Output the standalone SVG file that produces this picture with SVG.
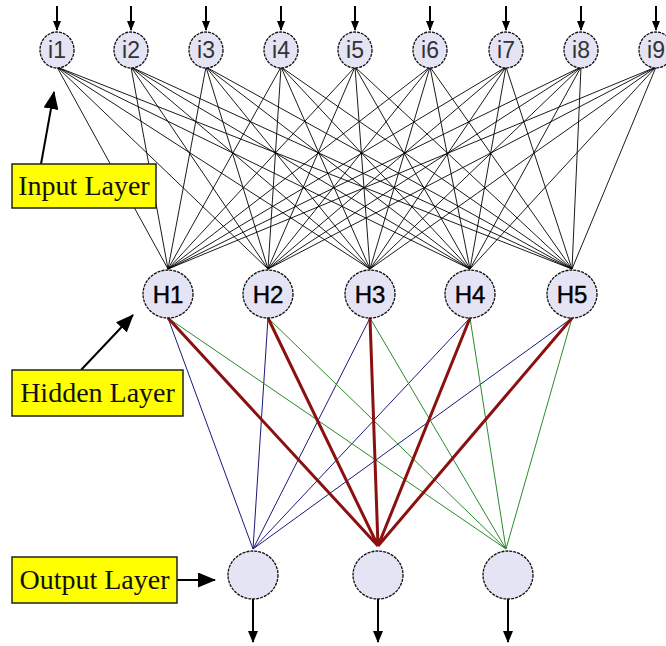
<svg xmlns="http://www.w3.org/2000/svg" width="666" height="646" viewBox="0 0 666 646">
<defs>
<style>
.node{fill:#e4e4f4;stroke:#111;stroke-width:1.3;stroke-dasharray:3 1}
.in{stroke:#000;stroke-width:0.9;fill:none}
.blue{stroke:#1a1a7a;stroke-width:1;fill:none}
.red{stroke:#8b1010;stroke-width:3;fill:none}
.green{stroke:#2a8a2a;stroke-width:1;fill:none}
.arr{stroke:#000;stroke-width:2;fill:none}
.itxt{font-family:"Liberation Sans",Arial,sans-serif;font-size:23px;fill:#333;text-anchor:middle}
.htxt{font-family:"Liberation Sans",Arial,sans-serif;font-size:24px;fill:#000;stroke:#000;stroke-width:0.4;text-anchor:middle}
.box{fill:#ffff00;stroke:#222;stroke-width:1.5}
.ltxt{font-family:"Liberation Serif","Times New Roman",serif;font-size:28px;fill:#111;text-anchor:middle}
</style>
<marker id="ahS" markerUnits="userSpaceOnUse" markerWidth="10" markerHeight="8" refX="9" refY="4" orient="auto" viewBox="0 0 10 8">
<path d="M0,0 L10,4 L0,8 Z" fill="#000"/>
</marker>
<marker id="ahL" markerUnits="userSpaceOnUse" markerWidth="18" markerHeight="15" refX="17" refY="7.5" orient="auto" viewBox="0 0 18 15">
<path d="M0,0 L18,7.5 L0,15 Z" fill="#000"/>
</marker>
<marker id="ahM" markerUnits="userSpaceOnUse" markerWidth="12" markerHeight="10" refX="11" refY="5" orient="auto" viewBox="0 0 12 10">
<path d="M0,0 L12,5 L0,10 Z" fill="#000"/>
</marker>
</defs>
<rect width="666" height="646" fill="#fff"/>
<g id="connectors">
<g id="input-to-hidden">
<path class="in" d="M57,67 L168,269 M57,67 L268,269 M57,67 L370,269 M57,67 L470,269 M57,67 L572,269"/>
<path class="in" d="M131,67 L168,269 M131,67 L268,269 M131,67 L370,269 M131,67 L470,269 M131,67 L572,269"/>
<path class="in" d="M206,67 L168,269 M206,67 L268,269 M206,67 L370,269 M206,67 L470,269 M206,67 L572,269"/>
<path class="in" d="M281,67 L168,269 M281,67 L268,269 M281,67 L370,269 M281,67 L470,269 M281,67 L572,269"/>
<path class="in" d="M355,67 L168,269 M355,67 L268,269 M355,67 L370,269 M355,67 L470,269 M355,67 L572,269"/>
<path class="in" d="M430,67 L168,269 M430,67 L268,269 M430,67 L370,269 M430,67 L470,269 M430,67 L572,269"/>
<path class="in" d="M506,67 L168,269 M506,67 L268,269 M506,67 L370,269 M506,67 L470,269 M506,67 L572,269"/>
<path class="in" d="M581,67 L168,269 M581,67 L268,269 M581,67 L370,269 M581,67 L470,269 M581,67 L572,269"/>
<path class="in" d="M656,67 L168,269 M656,67 L268,269 M656,67 L370,269 M656,67 L470,269 M656,67 L572,269"/>
</g>
<g id="hidden-to-output">
<path class="blue" d="M168,318 L253,549 M268,318 L253,549 M370,318 L253,549 M470,318 L253,549 M572,318 L253,549"/>
<path class="green" d="M168,318 L506,549 M268,318 L506,549 M370,318 L506,549 M470,318 L506,549 M572,318 L506,549"/>
<path class="red" d="M168,318 L378,546 M268,318 L378,546 M370,318 L378,546 M470,318 L378,546 M572,318 L378,546"/>
</g>
<g id="io-arrows">
<line class="arr" x1="57" y1="6" x2="57" y2="30" marker-end="url(#ahS)"/>
<line class="arr" x1="131" y1="6" x2="131" y2="30" marker-end="url(#ahS)"/>
<line class="arr" x1="206" y1="6" x2="206" y2="30" marker-end="url(#ahS)"/>
<line class="arr" x1="281" y1="6" x2="281" y2="30" marker-end="url(#ahS)"/>
<line class="arr" x1="355" y1="6" x2="355" y2="30" marker-end="url(#ahS)"/>
<line class="arr" x1="430" y1="6" x2="430" y2="30" marker-end="url(#ahS)"/>
<line class="arr" x1="506" y1="6" x2="506" y2="30" marker-end="url(#ahS)"/>
<line class="arr" x1="581" y1="6" x2="581" y2="30" marker-end="url(#ahS)"/>
<line class="arr" x1="656" y1="6" x2="656" y2="30" marker-end="url(#ahS)"/>
<line class="arr" x1="253" y1="599" x2="253" y2="642" stroke-width="2.5" marker-end="url(#ahM)"/>
<line class="arr" x1="378" y1="599" x2="378" y2="642" stroke-width="2.5" marker-end="url(#ahM)"/>
<line class="arr" x1="508" y1="599" x2="508" y2="642" stroke-width="3" marker-end="url(#ahM)"/>
</g>
<g id="label-arrows">
<line class="arr" x1="41" y1="164" x2="54" y2="92" stroke-width="2.5" marker-end="url(#ahL)"/>
<line class="arr" x1="81" y1="370" x2="133" y2="315" stroke-width="2.5" marker-end="url(#ahL)"/>
<line class="arr" x1="177" y1="580" x2="215" y2="580" stroke-width="2.5" marker-end="url(#ahL)"/>
</g>
</g>
<g id="i1"><ellipse class="node" cx="57" cy="50" rx="17" ry="18"/><text class="itxt" x="57" y="58">i1</text></g>
<g id="i2"><ellipse class="node" cx="131" cy="50" rx="17" ry="18"/><text class="itxt" x="131" y="58">i2</text></g>
<g id="i3"><ellipse class="node" cx="206" cy="50" rx="17" ry="18"/><text class="itxt" x="206" y="58">i3</text></g>
<g id="i4"><ellipse class="node" cx="281" cy="50" rx="17" ry="18"/><text class="itxt" x="281" y="58">i4</text></g>
<g id="i5"><ellipse class="node" cx="355" cy="50" rx="17" ry="18"/><text class="itxt" x="355" y="58">i5</text></g>
<g id="i6"><ellipse class="node" cx="430" cy="50" rx="17" ry="18"/><text class="itxt" x="430" y="58">i6</text></g>
<g id="i7"><ellipse class="node" cx="506" cy="50" rx="17" ry="18"/><text class="itxt" x="506" y="58">i7</text></g>
<g id="i8"><ellipse class="node" cx="581" cy="50" rx="17" ry="18"/><text class="itxt" x="581" y="58">i8</text></g>
<g id="i9"><ellipse class="node" cx="656" cy="50" rx="17" ry="18"/><text class="itxt" x="656" y="58">i9</text></g>
<g id="H1"><ellipse class="node" cx="168" cy="294" rx="25" ry="24"/><text class="htxt" x="168" y="303">H1</text></g>
<g id="H2"><ellipse class="node" cx="268" cy="294" rx="25" ry="24"/><text class="htxt" x="268" y="303">H2</text></g>
<g id="H3"><ellipse class="node" cx="370" cy="294" rx="25" ry="24"/><text class="htxt" x="370" y="303">H3</text></g>
<g id="H4"><ellipse class="node" cx="470" cy="294" rx="25" ry="24"/><text class="htxt" x="470" y="303">H4</text></g>
<g id="H5"><ellipse class="node" cx="572" cy="294" rx="25" ry="24"/><text class="htxt" x="572" y="303">H5</text></g>
<g id="O1"><ellipse class="node" cx="253" cy="575" rx="25" ry="24"/></g>
<g id="O2"><ellipse class="node" cx="378" cy="575" rx="25" ry="24"/></g>
<g id="O3"><ellipse class="node" cx="508" cy="575" rx="25" ry="24"/></g>
<g id="input-layer-label"><rect class="box" x="12" y="164" width="144" height="44"/><text class="ltxt" x="84" y="195">Input Layer</text></g>
<g id="hidden-layer-label"><rect class="box" x="12" y="370" width="171" height="46"/><text class="ltxt" x="97.5" y="402">Hidden Layer</text></g>
<g id="output-layer-label"><rect class="box" x="12" y="557" width="165" height="46"/><text class="ltxt" x="94.5" y="589">Output Layer</text></g>
</svg>
